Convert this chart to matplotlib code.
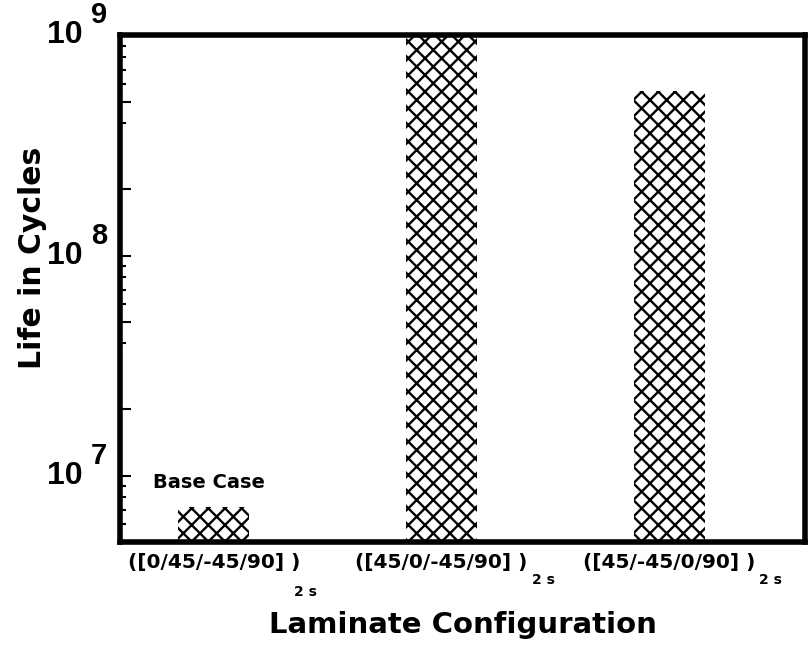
import math

import matplotlib
matplotlib.use("Agg")
import matplotlib.pyplot as plt
import matplotlib.ticker as ticker
from matplotlib.transforms import blended_transform_factory

# ── Dados ────────────────────────────────────────────────────────────────
configs  = ["([0/45/-45/90] )", "([45/0/-45/90] )", "([45/-45/0/90] )"]
subscr   = "2 s"
vida     = [7.2e6, 1.0e9, 5.6e8]
y_major  = [1e7, 1e8, 1e9]
y_long   = [2.0, 5.0]                   # minor ticks longos
y_short  = [4.0, 6.0, 7.0, 8.0, 9.0]    # minor ticks curtos

plt.rcParams["font.family"] = "DejaVu Sans"
plt.rcParams["font.weight"] = "bold"
plt.rcParams["hatch.linewidth"] = 1.7

fig = plt.figure(figsize=(8.11, 6.49), dpi=100)
ax = fig.add_axes([0.148, 0.165, 0.8446, 0.7804])
ax.set_yscale("log")

xs = list(range(len(configs)))
ax.bar(xs, vida, width=0.312, facecolor="white", edgecolor="black",
       linewidth=0, hatch="xx")

ax.set_ylim(5e6, 1e9)
ax.set_xlim(-0.412, 2.595)

# ── Eixo y ───────────────────────────────────────────────────────────────
ax.yaxis.set_major_locator(ticker.FixedLocator(y_major))
ax.yaxis.set_major_formatter(ticker.NullFormatter())
minors = [m * 10 ** e for e in (6, 7, 8) for m in y_long]
ax.yaxis.set_minor_locator(ticker.FixedLocator(minors))
ax.yaxis.set_minor_formatter(ticker.NullFormatter())
ax.tick_params(axis="y", which="both", direction="in", length=8, width=1.5)

ytrans = blended_transform_factory(ax.transAxes, ax.transData)
curtos = [m * 10 ** e for e in (6, 7, 8) for m in y_short]
for v in curtos:
    if 5e6 < v < 1e9:
        ax.plot([0, 0.009], [v, v], transform=ytrans, color="black", lw=1.5,
                clip_on=False, solid_capstyle="butt")

# rótulos 10^n com expoente grande, como no original
for v in y_major:
    ax.annotate("10", xy=(0, v), xycoords=ytrans, xytext=(-37, -8),
                textcoords="offset pixels", ha="right", va="baseline",
                fontsize=23, fontfamily="Liberation Sans", fontweight="bold",
                annotation_clip=False)
    ax.annotate(str(round(math.log10(v))), xy=(0, v), xycoords=ytrans,
                xytext=(-29, 12), textcoords="offset pixels", ha="left",
                va="baseline", fontsize=21, fontfamily="Liberation Sans",
                fontweight="bold", annotation_clip=False)

# ── Eixo x ───────────────────────────────────────────────────────────────
ax.set_xticks(xs)
ax.set_xticklabels(configs, fontsize=14.5, fontweight="bold")
ax.tick_params(axis="x", length=0, pad=8)

xtrans = blended_transform_factory(ax.transData, ax.transAxes)
# subscrito "2 s": no primeiro rótulo fica uma linha abaixo
ax.annotate(subscr, xy=(xs[0], 0), xycoords=xtrans, xytext=(92, -50),
            textcoords="offset pixels", ha="center", va="center",
            fontsize=10, fontweight="bold", annotation_clip=False)
for x in xs[1:]:
    ax.annotate(subscr, xy=(x, 0), xycoords=xtrans, xytext=(90, -38),
                textcoords="offset pixels", ha="left", va="center",
                fontsize=10, fontweight="bold", annotation_clip=False)

for sp in ax.spines.values():
    sp.set_linewidth(4)

ax.set_xlabel("Laminate Configuration", fontsize=21, fontweight="bold")
ax.xaxis.set_label_coords(0.5, -0.136)
ax.set_ylabel("Life in Cycles", fontsize=21.5, fontweight="bold")
ax.yaxis.set_label_coords(-0.106, 0.56)

ax.annotate("Base Case", xy=(xs[0], vida[0]), xytext=(-5, 25),
            textcoords="offset pixels", ha="center", va="center",
            fontsize=14, fontweight="bold")

fig.savefig("out.png", dpi=100)
